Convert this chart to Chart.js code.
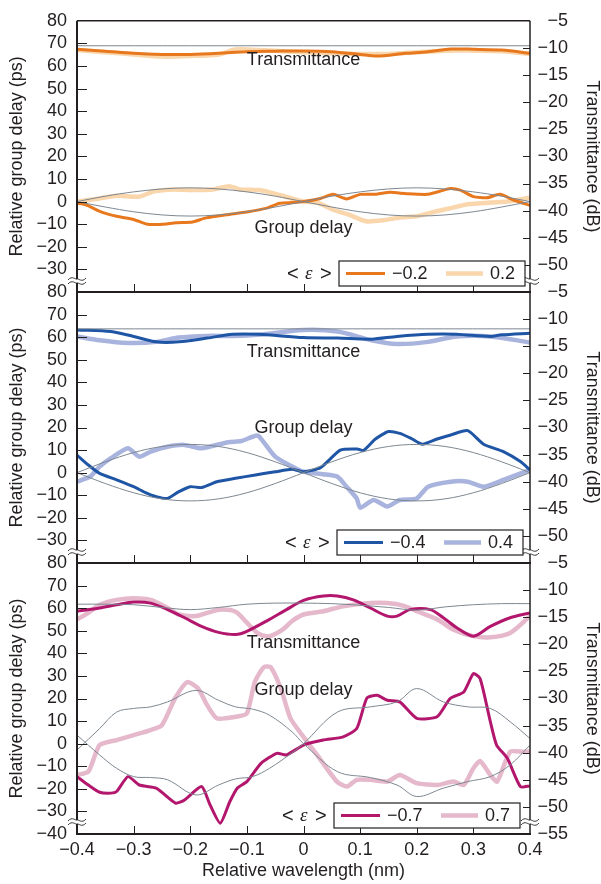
<!DOCTYPE html>
<html><head><meta charset="utf-8">
<script src="https://cdn.jsdelivr.net/npm/chart.js@4.4.1/dist/chart.umd.min.js"></script>
<style>
html,body{margin:0;padding:0;background:#fff;}
#wrap{position:relative;width:601px;height:884px;overflow:hidden;}
canvas{position:absolute;left:0;top:0;}
</style>
</head><body>
<div id="wrap">
<canvas id="c1" width="601" height="884"></canvas>
<canvas id="c2" width="601" height="884"></canvas>
<canvas id="c3" width="601" height="884"></canvas>
</div>
<script>
// ---------- DATA ----------
const WL_TICKS = [-0.4, -0.3, -0.2, -0.1, 0, 0.1, 0.2, 0.3, 0.4];
const WL_GRID = [-0.4,-0.35,-0.3,-0.25,-0.2,-0.15,-0.1,-0.05,0,0.05,0.1,0.15,0.2,0.25,0.3,0.35,0.4];
const WL_FLAT = [-0.4, 0, 0.4];

// Panel 1: <ε> = −0.2 / 0.2
const P1_LABELS = ['\u22120.2', '0.2'];
const P1_THEORY_T = [-9.6, -9.6, -9.6];
const P1_THEORY_GD_A = [0, 2.4, 4.3, 5.6, 6.1, 5.6, 4.3, 2.4, 0, -2.4, -4.5, -5.9, -6.4, -5.9, -4.5, -2.4, 0];
const P1_THEORY_GD_B = [0, -2.4, -4.5, -5.9, -6.4, -5.9, -4.5, -2.4, 0, 2.4, 4.3, 5.6, 6.1, 5.6, 4.3, 2.4, 0];
const P1_NEG_GD_X = [-0.4,-0.384,-0.36,-0.33,-0.30,-0.278,-0.254,-0.225,-0.196,-0.172,-0.136,-0.10,-0.065,-0.042,-0.019,0,0.03,0.052,0.076,0.1,0.129,0.153,0.182,0.218,0.241,0.259,0.277,0.3,0.324,0.347,0.371,0.4];
const P1_NEG_GD = [-0.7,-1.4,-4.3,-6.5,-7.9,-9.9,-10.1,-9.4,-9.0,-7.2,-5.8,-4.6,-2.9,-0.7,-0.4,0,1.4,3.2,1.2,3.2,3.3,4.1,3.5,3.2,4.6,5.8,5.1,2.2,1.7,3.2,0.7,-1.7];
const P1_POS_GD_X = [-0.4,-0.36,-0.33,-0.29,-0.264,-0.228,-0.196,-0.16,-0.131,-0.113,-0.078,-0.042,0,0.024,0.052,0.08,0.11,0.14,0.17,0.2,0.23,0.26,0.29,0.33,0.36,0.4];
const P1_POS_GD = [0,1.4,2.6,2.2,4.6,5.4,5.1,5.4,6.8,5.4,5.1,2.9,0,-0.4,-3.6,-5.8,-8.7,-8.3,-7.0,-6.5,-4.6,-2.9,-1.2,-0.4,0,1.7];
const P1_NEG_T_X = [-0.4,-0.35,-0.3,-0.25,-0.2,-0.15,-0.1,-0.05,0,0.05,0.1,0.13,0.18,0.22,0.26,0.3,0.35,0.4];
const P1_NEG_T = [-10.25,-10.6,-11.0,-11.2,-11.2,-11.0,-10.7,-10.6,-10.55,-10.7,-11.2,-11.5,-11.0,-10.7,-10.2,-10.25,-10.4,-11.0];
const P1_POS_T_X = [-0.4,-0.35,-0.3,-0.25,-0.2,-0.15,-0.12,-0.08,-0.04,0,0.05,0.1,0.15,0.2,0.25,0.3,0.35,0.4];
const P1_POS_T = [-10.4,-10.8,-11.2,-11.6,-11.5,-11.2,-10.3,-10.4,-10.6,-10.8,-11.0,-11.1,-11.1,-10.8,-10.5,-10.5,-10.6,-11.1];

// Panel 2: <ε> = −0.4 / 0.4
const P2_LABELS = ['\u22120.4', '0.4'];
const P2_THEORY_T = [-11.8, -11.8, -11.8];
const P2_THEORY_GD_A = [0, 4.8, 8.9, 11.6, 12.5, 11.6, 8.9, 4.8, 0, -4.8, -8.9, -11.6, -12.5, -11.6, -8.9, -4.8, 0];
const P2_THEORY_GD_B = [0, -4.8, -8.9, -11.6, -12.5, -11.6, -8.9, -4.8, 0, 4.8, 8.9, 11.6, 12.5, 11.6, 8.9, 4.8, 0];
const P2_NEG_GD_X = [-0.4,-0.38,-0.36,-0.33,-0.30,-0.28,-0.26,-0.24,-0.22,-0.2,-0.18,-0.153,-0.12,-0.085,-0.05,-0.02,0,0.03,0.065,0.095,0.106,0.127,0.15,0.17,0.19,0.21,0.236,0.26,0.29,0.318,0.353,0.383,0.4];
const P2_NEG_GD = [7.8,3.4,-0.3,-3.2,-6.2,-8.7,-10.6,-11.4,-8.4,-6.2,-6.6,-4.0,-2.5,-1.0,0.4,1.5,0.4,2.2,10.0,10.5,9.8,14.9,18.2,17.4,15.2,12.6,14.9,16.7,18.6,12.6,9.3,4.9,1.2];
const P2_POS_GD_X = [-0.4,-0.377,-0.36,-0.34,-0.31,-0.29,-0.27,-0.24,-0.21,-0.18,-0.133,-0.11,-0.09,-0.08,-0.05,-0.02,0,0.035,0.06,0.076,0.094,0.1,0.124,0.148,0.17,0.2,0.22,0.26,0.29,0.318,0.353,0.4];
const P2_POS_GD = [-4.0,-1.8,2.7,6.4,10.8,7.1,9.3,11.5,12.3,10.8,13.5,14.0,15.9,16.4,7.1,2.7,0.4,-0.7,-1.8,-6.2,-11.4,-15.5,-12.1,-15.0,-12.1,-11.4,-6.2,-4.0,-4.0,-6.2,-3.2,1.2];
const P2_NEG_T_X = [-0.4,-0.34,-0.3,-0.26,-0.22,-0.17,-0.125,-0.08,0,0.06,0.12,0.165,0.22,0.27,0.33,0.35,0.4];
const P2_NEG_T = [-12.0,-12.3,-13.2,-14.2,-14.2,-13.5,-12.8,-12.8,-13.4,-13.5,-13.7,-13.2,-12.8,-12.8,-13.2,-12.9,-12.6];
const P2_POS_T_X = [-0.4,-0.36,-0.31,-0.26,-0.22,-0.17,-0.125,-0.08,0,0.06,0.12,0.165,0.22,0.27,0.33,0.4];
const P2_POS_T = [-13.2,-13.9,-14.4,-14.2,-13.4,-13.1,-13.1,-12.9,-12.0,-12.3,-13.9,-14.6,-14.2,-13.2,-13.2,-14.3];

// Panel 3: <ε> = −0.7 / 0.7
const P3_LABELS = ['\u22120.7', '0.7'];
const P3_THEORY_T = [-12.6,-12.6,-12.7,-13.2,-13.6,-13.2,-12.6,-12.4,-12.4,-12.5,-12.8,-13.2,-13.7,-13.1,-12.7,-12.5,-12.5];
const P3_THEORY_GD_X = [-0.4,-0.36,-0.33,-0.3,-0.27,-0.24,-0.19,-0.15,-0.12,-0.09,-0.06,-0.02,0,0.06,0.118,0.165,0.2,0.247,0.29,0.33,0.365,0.4];
const P3_THEORY_GD_A = [-2.8,6.7,14.0,15.6,16.3,18.5,23.6,19.2,16.3,15.3,12.6,5.2,0,-12.4,-15.0,-18.3,-23.4,-19.7,-16.8,-14.6,-9.4,-0.6];
const P3_THEORY_GD_B = [3.8,-5.0,-10.9,-14.6,-15.0,-16.0,-22.7,-18.3,-15.6,-14.6,-10.9,-4.0,0,14.0,16.3,18.5,24.4,18.5,16.3,15.6,9.7,2.3];
const P3_NEG_GD_X = [-0.4,-0.38,-0.36,-0.34,-0.33,-0.31,-0.29,-0.26,-0.226,-0.21,-0.18,-0.165,-0.147,-0.13,-0.117,-0.1,-0.075,-0.047,-0.03,0,0.035,0.07,0.094,0.112,0.13,0.148,0.17,0.2,0.236,0.259,0.283,0.3,0.312,0.33,0.341,0.36,0.383,0.4];
const P3_NEG_GD = [-14.6,-18.3,-21.5,-21.9,-21.2,-14.6,-18.3,-19.7,-26.3,-24.9,-19.0,-27.1,-35.2,-25.6,-19.7,-16.8,-8.7,-4.3,-5.0,-0.6,1.6,3.0,6.7,20.2,21.4,19.2,18.5,11.2,11.9,20.0,22.9,31.0,28.8,9.7,-0.6,-6.5,-19.0,-18.7];
const P3_POS_GD_X = [-0.4,-0.38,-0.36,-0.33,-0.3,-0.27,-0.25,-0.227,-0.205,-0.186,-0.17,-0.153,-0.12,-0.1,-0.086,-0.07,-0.058,-0.04,-0.023,0,0.024,0.059,0.077,0.094,0.118,0.148,0.17,0.2,0.236,0.265,0.283,0.3,0.312,0.33,0.342,0.365,0.389,0.4];
const P3_POS_GD = [-13.9,-12.4,-0.6,1.6,3.8,6.0,8.2,20.0,27.3,24.4,17.0,11.2,11.9,13.4,27.3,33.9,33.9,24.4,11.2,3.0,-5.0,-16.8,-19.0,-16.0,-16.0,-16.8,-13.9,-17.5,-18.3,-16.8,-18.3,-10.9,-7.7,-13.9,-16.8,-3.6,-3.6,-3.6];
const P3_NEG_T_X = [-0.4,-0.36,-0.33,-0.3,-0.27,-0.24,-0.21,-0.18,-0.15,-0.12,-0.1,-0.06,-0.03,0,0.035,0.06,0.088,0.118,0.148,0.165,0.188,0.224,0.247,0.27,0.3,0.33,0.365,0.4];
const P3_NEG_T = [-13.9,-13.3,-12.7,-12.2,-12.4,-13.6,-15.1,-16.7,-17.8,-18.2,-17.6,-15.4,-13.6,-11.9,-11.1,-11.1,-11.8,-13.3,-14.8,-14.8,-13.6,-13.6,-15.1,-16.9,-18.5,-16.7,-15.1,-14.2];
const P3_POS_T_X = [-0.4,-0.38,-0.36,-0.33,-0.3,-0.27,-0.24,-0.22,-0.19,-0.17,-0.145,-0.12,-0.1,-0.08,-0.06,-0.037,-0.02,0,0.035,0.07,0.118,0.148,0.177,0.2,0.236,0.265,0.3,0.33,0.365,0.4];
const P3_POS_T = [-15.4,-14.2,-12.7,-11.8,-11.5,-11.8,-13.3,-14.5,-14.8,-14.2,-13.6,-14.0,-16.0,-18.0,-18.5,-17.3,-15.7,-14.5,-13.9,-13.0,-12.4,-12.4,-12.9,-13.9,-15.4,-17.3,-18.5,-18.7,-17.9,-14.8];

// ---------- STYLE ----------
const FONT = "'Liberation Sans', Arial, Helvetica, sans-serif";
const FS = 18;
const INK = '#231f20';
const GRAY = '#7d8791';
const COLORS = {
  p1: ['#e8781e', '#f9d6ac'],
  p2: ['#1f55a5', '#a9b4de'],
  p3: ['#b3176d', '#e5b9cb']
};

function pts(xs, ys) { return xs.map((x, i) => ({x: x, y: ys[i]})); }
function fmt(v) {
  if (Math.abs(v) < 1e-9) return '0';
  const s = (Math.round(v * 10) / 10).toString();
  return v < 0 ? '\u2212' + s.replace('-', '') : s;
}

const framePlugin = {
  id: 'frame',
  afterDatasetsDraw(chart) {
    const o = chart.options.plugins.frame;
    const {ctx, chartArea: a, scales} = chart;
    const L = scales.yL, R = scales.yR, X = scales.x;
    ctx.save();
    // inward tick marks
    ctx.strokeStyle = INK; ctx.lineWidth = 1;
    ctx.beginPath();
    L.ticks.forEach(t => {
      const y = Math.round(L.getPixelForValue(t.value)) + 0.5;
      if (y < a.top + 2 || y > a.bottom - 2) return;
      ctx.moveTo(a.left, y); ctx.lineTo(a.left + 10, y);
    });
    R.ticks.forEach(t => {
      const y = Math.round(R.getPixelForValue(t.value)) + 0.5;
      if (y < a.top + 2 || y > a.bottom - 2) return;
      ctx.moveTo(a.right - 7, y); ctx.lineTo(a.right, y);
    });
    WL_TICKS.forEach(v => {
      const x = Math.round(X.getPixelForValue(v)) + 0.5;
      if (x < a.left + 2 || x > a.right - 2) return;
      ctx.moveTo(x, a.bottom); ctx.lineTo(x, a.bottom - 8);
    });
    ctx.stroke();
    // right-axis tick labels, right aligned (from the scale's own ticks)
    ctx.fillStyle = INK;
    ctx.font = FS + 'px ' + FONT;
    ctx.textAlign = 'right'; ctx.textBaseline = 'middle';
    R.ticks.forEach(t => {
      if (t.value === R.min && !o.showMin) return;
      ctx.fillText(fmt(t.value), a.right + 38, R.getPixelForValue(t.value));
    });
    // frame
    ctx.strokeStyle = INK;
    ctx.lineWidth = 2;
    ctx.beginPath(); ctx.moveTo(a.left, a.top); ctx.lineTo(a.left, a.bottom + 1); ctx.stroke();
    ctx.beginPath(); ctx.moveTo(a.left - 1, a.bottom); ctx.lineTo(a.right + 1, a.bottom); ctx.stroke();
    ctx.lineWidth = 1.5;
    ctx.beginPath(); ctx.moveTo(a.right, a.top); ctx.lineTo(a.right, a.bottom); ctx.stroke();
    if (o.topLine) { ctx.beginPath(); ctx.moveTo(a.left, a.top); ctx.lineTo(a.right, a.top); ctx.stroke(); }
    // axis breaks
    const by = a.bottom - o.breakOff;
    [a.left, a.right].forEach(bx => {
      ctx.fillStyle = '#fff';
      ctx.fillRect(bx - 3, by - 2, 6, 4);
      ctx.strokeStyle = INK; ctx.lineWidth = 0.9;
      [-2, 2].forEach(dy => {
        ctx.beginPath();
        ctx.moveTo(bx - 9, by + dy + 1);
        ctx.bezierCurveTo(bx - 5, by + dy - 4, bx - 1, by + dy + 1, bx, by + dy);
        ctx.bezierCurveTo(bx + 1, by + dy - 1, bx + 5, by + dy + 4, bx + 9, by + dy - 1);
        ctx.stroke();
      });
    });
    // curve labels
    ctx.fillStyle = INK;
    ctx.font = FS + 'px ' + FONT;
    ctx.textAlign = 'center'; ctx.textBaseline = 'middle';
    const cx = X.getPixelForValue(0);
    ctx.fillText('Transmittance', cx, L.getPixelForValue(o.tLabel));
    ctx.fillText('Group delay', cx, L.getPixelForValue(o.gLabel));
    // legend
    const bw = 186, bh = 25;
    const bx = a.right - o.legR - bw, byy = a.bottom - o.legB - bh;
    ctx.fillStyle = '#fff'; ctx.fillRect(bx, byy, bw, bh);
    ctx.strokeStyle = INK; ctx.lineWidth = 1.2; ctx.strokeRect(bx, byy, bw, bh);
    const cy = byy + bh / 2;
    const ds = chart.data.datasets.filter(d => d.legend);
    ctx.lineCap = 'butt';
    ctx.strokeStyle = ds[0].borderColor; ctx.lineWidth = ds[0].borderWidth;
    ctx.beginPath(); ctx.moveTo(bx + 7, cy); ctx.lineTo(bx + 46, cy); ctx.stroke();
    ctx.strokeStyle = ds[1].borderColor; ctx.lineWidth = ds[1].borderWidth;
    ctx.beginPath(); ctx.moveTo(bx + 107, cy); ctx.lineTo(bx + 144, cy); ctx.stroke();
    ctx.fillStyle = INK; ctx.textAlign = 'left';
    ctx.font = FS + 'px ' + FONT;
    ctx.fillText(ds[0].label, bx + 53, cy + 1);
    ctx.fillText(ds[1].label, bx + 151, cy + 1);
    ctx.font = '20px ' + FONT;
    ctx.fillText('<', bx - 52, cy + 1);
    ctx.fillText('>', bx - 19, cy + 1);
    ctx.font = 'italic 19px "Liberation Serif", "DejaVu Serif", serif';
    ctx.fillText('\u03b5', bx - 34, cy);
    ctx.restore();
  }
};

function makeChart(id, cfg) {
  const [cDark, cLight] = cfg.colors;
  const datasets = [
    {label: 'theory T', data: pts(cfg.tThX, cfg.tTh), yAxisID: 'yR', borderColor: GRAY, borderWidth: 1, tension: 0.35},
    {label: 'theory GD a', data: pts(cfg.gThX, cfg.gThA), yAxisID: 'yL', borderColor: GRAY, borderWidth: 1, tension: 0.35},
    {label: 'theory GD b', data: pts(cfg.gThX, cfg.gThB), yAxisID: 'yL', borderColor: GRAY, borderWidth: 1, tension: 0.35},
    {label: cfg.labels[0], legend: true, data: pts(cfg.negGX, cfg.negG), yAxisID: 'yL', borderColor: cDark, borderWidth: 3, tension: 0.2},
    {label: cfg.labels[0] + ' T', data: pts(cfg.negTX, cfg.negT), yAxisID: 'yR', borderColor: cDark, borderWidth: 3, tension: 0.3},
    {label: cfg.labels[1], legend: true, data: pts(cfg.posGX, cfg.posG), yAxisID: 'yL', borderColor: cLight, borderWidth: 4.5, tension: 0.2},
    {label: cfg.labels[1] + ' T', data: pts(cfg.posTX, cfg.posT), yAxisID: 'yR', borderColor: cLight, borderWidth: 4.5, tension: 0.3}
  ];
  datasets.forEach(d => { d.pointRadius = 0; d.fill = false; d.borderJoinStyle = 'round'; });
  const tickFont = {family: FONT, size: FS};
  const titleFont = {family: FONT, size: FS, lineHeight: 1};
  return new Chart(document.getElementById(id), {
    type: 'line',
    data: {datasets},
    plugins: [framePlugin],
    options: {
      responsive: false, animation: false, events: [], devicePixelRatio: 1,
      layout: {padding: {top: cfg.top, bottom: cfg.padBottom, left: 0, right: 0}},
      plugins: {
        legend: {display: false}, tooltip: {enabled: false},
        frame: {topLine: cfg.topLine, breakOff: cfg.breakOff, tLabel: cfg.tLabel, gLabel: cfg.gLabel,
                legR: cfg.legR, legB: cfg.legB, showMin: cfg.showX}
      },
      scales: {
        x: {
          type: 'linear', min: -0.4, max: 0.4, position: 'bottom',
          grid: {display: false, drawTicks: false}, border: {display: false},
          ticks: {display: cfg.showX, stepSize: 0.1, font: tickFont, color: INK, padding: 5, maxRotation: 0, autoSkip: false,
                  callback: v => fmt(v)},
          title: {display: cfg.showX, text: 'Relative wavelength (nm)', font: titleFont, color: INK, padding: {top: 0, bottom: 4}},
          afterFit: s => { s.height = cfg.showX ? 50 : 0; }
        },
        yL: {
          type: 'linear', position: 'left', min: -40, max: 80,
          grid: {display: false, drawTicks: false}, border: {display: false},
          ticks: {stepSize: 10, font: tickFont, color: INK, padding: 10, autoSkip: false,
                  callback: v => (v === -40 && !cfg.showX) ? '' : fmt(v)},
          title: {display: true, text: 'Relative group delay (ps)', font: titleFont, color: INK, padding: {top: 8, bottom: 0}},
          afterFit: s => { s.width = 77; }
        },
        yR: {
          type: 'linear', position: 'right', min: -55, max: -5,
          grid: {display: false, drawTicks: false}, border: {display: false},
          ticks: {display: false, stepSize: 5, autoSkip: false},
          title: {display: true, text: 'Transmittance (dB)', font: titleFont, color: INK, padding: {top: 0, bottom: 0}},
          afterFit: s => { s.width = 71; }
        }
      }
    }
  });
}

makeChart('c1', {
  colors: COLORS.p1, labels: P1_LABELS, top: 16, padBottom: 884 - 292, showX: false, topLine: true,
  breakOff: 11, tLabel: 62.5, gLabel: -11.7, legR: 5, legB: 6,
  tThX: WL_FLAT, tTh: P1_THEORY_T, gThX: WL_GRID, gThA: P1_THEORY_GD_A, gThB: P1_THEORY_GD_B,
  negGX: P1_NEG_GD_X, negG: P1_NEG_GD, posGX: P1_POS_GD_X, posG: P1_POS_GD,
  negTX: P1_NEG_T_X, negT: P1_NEG_T, posTX: P1_POS_T_X, posT: P1_POS_T
});
makeChart('c2', {
  colors: COLORS.p2, labels: P2_LABELS, top: 292, padBottom: 884 - 563, showX: false, topLine: false,
  breakOff: 11, tLabel: 53.5, gLabel: 19.8, legR: 7, legB: 8,
  tThX: WL_FLAT, tTh: P2_THEORY_T, gThX: WL_GRID, gThA: P2_THEORY_GD_A, gThB: P2_THEORY_GD_B,
  negGX: P2_NEG_GD_X, negG: P2_NEG_GD, posGX: P2_POS_GD_X, posG: P2_POS_GD,
  negTX: P2_NEG_T_X, negT: P2_NEG_T, posTX: P2_POS_T_X, posT: P2_POS_T
});
makeChart('c3', {
  colors: COLORS.p3, labels: P3_LABELS, top: 563, padBottom: 0, showX: true, topLine: false,
  breakOff: 12, tLabel: 44.4, gLabel: 23.6, legR: 10, legB: 6,
  tThX: WL_GRID, tTh: P3_THEORY_T, gThX: P3_THEORY_GD_X, gThA: P3_THEORY_GD_A, gThB: P3_THEORY_GD_B,
  negGX: P3_NEG_GD_X, negG: P3_NEG_GD, posGX: P3_POS_GD_X, posG: P3_POS_GD,
  negTX: P3_NEG_T_X, negT: P3_NEG_T, posTX: P3_POS_T_X, posT: P3_POS_T
});
</script>
</body></html>
